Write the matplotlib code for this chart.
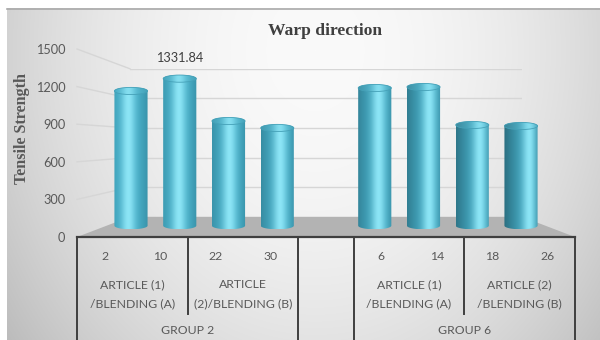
import numpy as np
import matplotlib
matplotlib.use("Agg")
import matplotlib.pyplot as plt
from matplotlib.patches import Ellipse, PathPatch, Polygon
from matplotlib.path import Path
from matplotlib.transforms import blended_transform_factory

# ---- data -------------------------------------------------------------
samples = ["2", "10", "22", "30", "6", "14", "18", "26"]
articles = ["ARTICLE (1)\n/BLENDING (A)", "ARTICLE\n(2)/BLENDING (B)",
            "ARTICLE (1)\n/BLENDING (A)", "ARTICLE (2)\n/BLENDING (B)"]
groups = ["GROUP 2", "GROUP 6"]
strength = [1220, 1331.84, 948, 885, 1247, 1256, 912, 903]
y_ticks = [0, 300, 600, 900, 1200, 1500]
labelled_value = 1331.84

title = "Warp direction"
y_title = "Tensile Strength"

# ---- layout (pixels, origin top-left) ---------------------------------
W, H = 600, 340
FRONT_L, FRONT_R = 77, 575          # front edge of the floor
FRONT_Y0, FRONT_YMAX = 237, 49      # front plane: y of 0 and of max tick
VP = (326, 142)                     # perspective centre
K = 0.27                            # depth foreshortening
YMAX = y_ticks[-1]
N_SLOTS = 9                         # 4 + gap + 4 category slots

# slot index of each bar: two groups of four with one empty slot between
slots = [g * 5 + j for g in range(2) for j in range(4)]

fig = plt.figure(figsize=(W / 100, H / 100), dpi=100)

# background with soft radial shading
bg = fig.add_axes([0, 0, 1, 1])
bg.set_xlim(0, W)
bg.set_ylim(H, 0)
bg.axis("off")
yy, xx = np.mgrid[0:H, 0:W]
r2 = ((xx - 315) / 340.0) ** 2 + ((yy - 50) / 420.0) ** 2
gray = np.clip(250 - 48 * r2, 185, 252) / 255.0
img = np.dstack([gray, gray, gray])
bg.imshow(img[8:, 7:], extent=(7, W, H, 8), origin="upper",
          aspect="auto", interpolation="bilinear", zorder=0)
bg.plot([7, W], [8.5, 8.5], color="#a9a9a9", lw=1.2, zorder=1)
bg.set_xlim(0, W)
bg.set_ylim(H, 0)


def plane_axes(depth, ylo):
    s = 1.0 / (1.0 + K * depth)
    left = VP[0] + s * (FRONT_L - VP[0])
    right = VP[0] + s * (FRONT_R - VP[0])
    y0 = VP[1] + s * (FRONT_Y0 - VP[1])
    ytop = VP[1] + s * (FRONT_YMAX - VP[1])
    ppu = (y0 - ytop) / YMAX
    bottom = y0 - ylo * ppu
    ax = fig.add_axes([left / W, 1 - bottom / H,
                       (right - left) / W, (bottom - ytop) / H])
    ax.set_xlim(-0.5, N_SLOTS - 0.5)
    ax.set_ylim(ylo, YMAX)
    ax.patch.set_alpha(0)
    for sp in ax.spines.values():
        sp.set_visible(False)
    ax.set_xticks([])
    return ax


ax_front = plane_axes(0.0, 0)
ax_back = plane_axes(1.0, 0)
ax_mid = plane_axes(0.5, -200)
ax_back.set_yticks([])
ax_mid.set_yticks([])

# value axis labels on the front plane
ax_front.set_yticks(y_ticks)
ax_front.set_yticklabels([str(t) for t in y_ticks])
ax_front.tick_params(axis="y", length=0, pad=8.5, labelsize=9.2,
                     labelcolor="#595959")
for lab in ax_front.get_yticklabels():
    lab.set_family("Lato")

to_bg = bg.transData.inverted()


def front_pt(x, v):
    return to_bg.transform(ax_front.transData.transform((x, v)))


def back_pt(x, v):
    return to_bg.transform(ax_back.transData.transform((x, v)))


x_lo, x_hi = -0.5, N_SLOTS - 0.5

# back wall gridlines and side wall diagonals
for v in y_ticks[1:]:
    ax_back.axhline(v, color="#d6d6d6", lw=1.0, zorder=1)
    p0, p1 = front_pt(x_lo, v), back_pt(x_lo, v)
    bg.plot([p0[0], p1[0]], [p0[1], p1[1]], color="#d6d6d6", lw=1.0, zorder=2)

# floor
floor = [front_pt(x_lo, 0), front_pt(x_hi, 0), back_pt(x_hi, 0), back_pt(x_lo, 0)]
bg.add_patch(Polygon(floor, closed=True, facecolor="#b3b3b3",
                     edgecolor="none", zorder=3))

# cylinders
ppu_mid = (ax_mid.transData.transform((0, 1000))[1]
           - ax_mid.transData.transform((0, 0))[1]) / 1000.0
e = 3.6 / ppu_mid
w = 0.68

deep = np.array([36, 94, 110]) / 255.0
mid = np.array([70, 176, 202]) / 255.0
light = np.array([140, 229, 246]) / 255.0


def shade(t, h, dark):
    b = np.exp(-((t - h) / 0.22) ** 2)[:, None]
    c = mid * (1 - b) + light * b
    lft = (np.clip(1 - t / h, 0, 1) ** 1.3 * dark)[:, None]
    c = c * (1 - lft) + deep * lft
    rgt = (np.clip((t - h) / (1 - h), 0, 1) ** 2 * 0.35)[:, None]
    c = c * (1 - rgt) + deep * rgt
    return c


t = np.linspace(0, 1, 120)
n = len(strength)
for i, (x, v) in enumerate(zip(slots, strength)):
    pos = i / (n - 1)
    cols = shade(t, 0.42 + 0.32 * pos, 0.15 + 0.65 * pos)
    grad = np.repeat(cols[None, :, :], 2, axis=0)

    th_b = np.linspace(np.pi, 2 * np.pi, 40)
    th_t = np.linspace(0, np.pi, 40)
    pts = np.vstack([
        np.column_stack([x + w / 2 * np.cos(th_b), e * np.sin(th_b)]),
        np.column_stack([x + w / 2 * np.cos(th_t), v + e * np.sin(th_t)]),
    ])
    body = PathPatch(Path(np.vstack([pts, pts[:1]])), transform=ax_mid.transData,
                     facecolor="none", edgecolor="none")
    ax_mid.add_patch(body)
    im = ax_mid.imshow(grad, extent=(x - w / 2, x + w / 2, -e, v + e),
                       aspect="auto", interpolation="bilinear", zorder=4)
    im.set_clip_path(body)

    cap = Ellipse((x, v), w, 2 * e, transform=ax_mid.transData,
                  facecolor="none", edgecolor=(0.27, 0.63, 0.72), lw=0.6,
                  zorder=6)
    ax_mid.add_patch(cap)
    cap_cols = cols * 0.75 + np.array([0.42, 0.78, 0.86]) * 0.25
    im2 = ax_mid.imshow(np.repeat(cap_cols[None, :, :], 2, axis=0),
                        extent=(x - w / 2, x + w / 2, v - e, v + e),
                        aspect="auto", interpolation="bilinear", zorder=5)
    im2.set_clip_path(cap)

ax_mid.set_xlim(x_lo, x_hi)
ax_mid.set_ylim(-200, YMAX)

# value label
k = strength.index(labelled_value)
ax_mid.annotate(f"{labelled_value:.2f}", xy=(slots[k], labelled_value),
                xytext=(0, 15), textcoords="offset points", ha="center",
                va="center", fontsize=9.2, color="#404040", family="Lato")

# category table below the floor
tb = blended_transform_factory(ax_front.transData, bg.transData)
line_kw = dict(color="#3f3f3f", lw=1.4, transform=tb, clip_on=False, zorder=7)
p0, p1 = front_pt(x_lo, 0), front_pt(x_hi, 0)
bg.plot([p0[0], p1[0]], [p0[1], p1[1]], color="#3f3f3f", lw=1.6, zorder=7)
for xb in [x_lo, 3.5, 4.5, x_hi]:
    bg.plot([xb, xb], [FRONT_Y0, H], **line_kw)
for xb in [1.5, 6.5]:
    bg.plot([xb, xb], [FRONT_Y0, 314], **line_kw)

txt_kw = dict(transform=tb, ha="center", va="center", fontsize=8.8,
              color="#595959", family="Lato", zorder=8)
for x, s in zip(slots, samples):
    bg.text(x, 256, s, **txt_kw)
for j, a in enumerate(articles):
    xc = slots[2 * j] + 0.5
    l1, l2 = a.split("\n")
    bg.text(xc, 285, l1, **txt_kw)
    bg.text(xc, 304, l2, **txt_kw)
for g, name in enumerate(groups):
    bg.text(slots[4 * g] + 1.5, 331, name, **txt_kw)

# titles
bg.text(325, 31, title, ha="center", va="center", fontsize=12.6,
        fontweight="bold", family="Liberation Serif", color="#404040", zorder=8)
bg.text(22, 128, y_title, ha="center", va="center", rotation=90, fontsize=11.6,
        fontweight="bold", family="Liberation Serif", color="#595959", zorder=8)

fig.savefig("out.png", dpi=100)
